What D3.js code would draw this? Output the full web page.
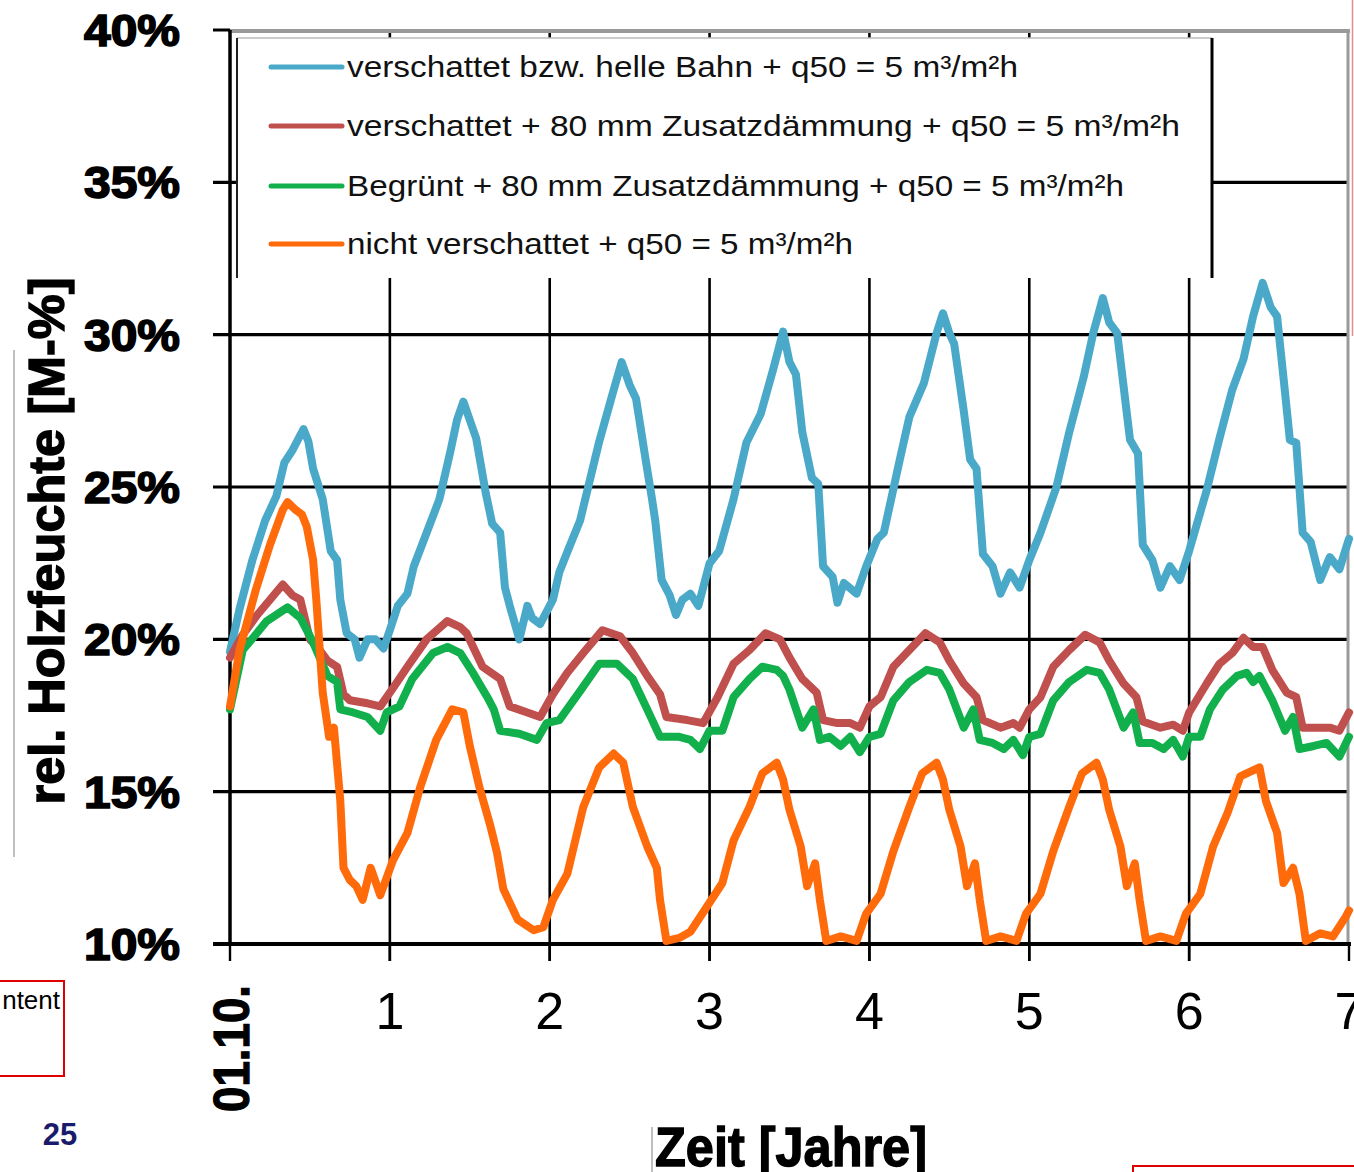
<!DOCTYPE html>
<html>
<head>
<meta charset="utf-8">
<script src="https://cdn.jsdelivr.net/npm/d3@7"></script>
<style>
  body { margin: 0; background: #fff; }
  svg { display: block; font-family: "Liberation Sans", Arial, sans-serif; }
</style>
</head>
<body>
<svg id="chart"></svg>
<script>
/* Holzfeuchte over 7 years - four variants */

const width = 1354, height = 1172;

// ---- data (year, rel. wood moisture %) ----
const yearTicks = [0, 1, 2, 3, 4, 5, 6, 7];
const yearLabels = ["", "1", "2", "3", "4", "5", "6", "7"];
const pctTicks = [10, 15, 20, 25, 30, 35, 40];

const seriesNames = [
  "verschattet bzw. helle Bahn + q50 = 5 m³/m²h",
  "verschattet +  80 mm Zusatzdämmung + q50 = 5 m³/m²h",
  "Begrünt + 80 mm Zusatzdämmung + q50 = 5 m³/m²h",
  "nicht verschattet + q50 = 5 m³/m²h"
];
const seriesColors = ["#4aa9c8", "#c0504d", "#12b04c", "#ff6a0a"];

const blueData = [[0,19.6],[0.06,21.0],[0.14,22.6],[0.22,23.9],[0.29,24.7],[0.34,25.8],[0.39,26.2],[0.46,26.9],[0.49,26.5],[0.52,25.6],[0.58,24.6],[0.63,22.9],[0.67,22.6],[0.69,21.3],[0.73,20.2],[0.78,20.0],[0.81,19.4],[0.86,20.0],[0.91,20.0],[0.96,19.7],[1.0,20.3],[1.05,21.1],[1.11,21.5],[1.15,22.4],[1.23,23.5],[1.31,24.6],[1.38,26.2],[1.42,27.2],[1.46,27.8],[1.5,27.2],[1.54,26.6],[1.6,24.8],[1.64,23.8],[1.69,23.5],[1.72,21.7],[1.75,21.1],[1.81,20.0],[1.86,21.1],[1.89,20.7],[1.94,20.5],[2.02,21.3],[2.06,22.2],[2.12,23.0],[2.19,23.9],[2.31,26.5],[2.39,28.0],[2.45,29.1],[2.5,28.35],[2.54,27.9],[2.6,25.9],[2.64,24.6],[2.66,23.9],[2.7,21.95],[2.75,21.45],[2.79,20.8],[2.83,21.3],[2.88,21.5],[2.93,21.1],[3.0,22.5],[3.06,22.9],[3.15,24.6],[3.23,26.45],[3.32,27.4],[3.4,28.9],[3.46,30.1],[3.5,29.1],[3.54,28.7],[3.58,26.8],[3.64,25.3],[3.68,25.1],[3.71,22.4],[3.77,22.05],[3.8,21.2],[3.84,21.85],[3.92,21.5],[3.98,22.4],[4.05,23.3],[4.09,23.5],[4.19,25.9],[4.25,27.3],[4.34,28.4],[4.42,30.05],[4.46,30.7],[4.5,30.05],[4.53,29.7],[4.59,27.5],[4.63,25.9],[4.67,25.6],[4.71,22.8],[4.77,22.4],[4.82,21.5],[4.88,22.2],[4.94,21.7],[5.0,22.6],[5.07,23.5],[5.17,25.0],[5.25,26.8],[5.34,28.6],[5.4,30.05],[5.46,31.2],[5.5,30.4],[5.55,30.05],[5.59,28.3],[5.63,26.55],[5.68,26.1],[5.71,23.1],[5.77,22.6],[5.82,21.7],[5.88,22.4],[5.94,21.95],[6.0,22.9],[6.11,24.9],[6.19,26.6],[6.27,28.2],[6.34,29.2],[6.4,30.6],[6.46,31.7],[6.51,30.9],[6.55,30.6],[6.59,28.6],[6.63,26.55],[6.67,26.45],[6.71,23.5],[6.76,23.2],[6.82,21.95],[6.88,22.7],[6.94,22.3],[7.0,23.3]];

const redData = [[0,19.4],[0.08,20.15],[0.17,20.8],[0.25,21.3],[0.33,21.8],[0.39,21.45],[0.44,21.3],[0.5,20.0],[0.56,19.65],[0.61,19.3],[0.67,19.1],[0.71,18.2],[0.75,18.0],[0.86,17.9],[0.94,17.8],[1.02,18.4],[1.11,19.1],[1.23,20.0],[1.36,20.6],[1.44,20.4],[1.48,20.2],[1.58,19.1],[1.69,18.7],[1.75,17.8],[1.86,17.6],[1.94,17.45],[2.02,18.2],[2.11,18.9],[2.21,19.55],[2.33,20.3],[2.44,20.1],[2.52,19.55],[2.61,18.8],[2.69,18.2],[2.73,17.45],[2.86,17.35],[2.96,17.25],[3.05,18.1],[3.15,19.2],[3.25,19.65],[3.35,20.2],[3.44,20.0],[3.5,19.4],[3.58,18.7],[3.67,18.25],[3.71,17.35],[3.8,17.25],[3.88,17.25],[3.94,17.1],[4.0,17.8],[4.07,18.1],[4.15,19.1],[4.25,19.65],[4.35,20.2],[4.44,19.9],[4.5,19.3],[4.59,18.55],[4.67,18.1],[4.71,17.35],[4.82,17.1],[4.9,17.25],[4.94,17.1],[5.0,17.7],[5.07,18.1],[5.15,19.1],[5.25,19.65],[5.35,20.15],[5.44,19.9],[5.5,19.3],[5.59,18.55],[5.67,18.1],[5.71,17.3],[5.82,17.1],[5.9,17.2],[5.96,17.0],[6.0,17.6],[6.11,18.55],[6.19,19.2],[6.27,19.55],[6.34,20.05],[6.4,19.75],[6.46,19.75],[6.52,19.0],[6.61,18.25],[6.67,18.1],[6.71,17.1],[6.8,17.1],[6.88,17.1],[6.94,17.0],[7.0,17.6]];

const greenData = [[0,17.7],[0.08,19.65],[0.16,20.15],[0.23,20.6],[0.36,21.05],[0.44,20.7],[0.48,20.3],[0.52,19.9],[0.61,18.8],[0.67,18.6],[0.69,17.7],[0.77,17.6],[0.86,17.45],[0.94,17.0],[0.98,17.6],[1.06,17.8],[1.14,18.7],[1.27,19.55],[1.36,19.75],[1.44,19.55],[1.52,18.9],[1.61,18.1],[1.65,17.7],[1.69,17.0],[1.81,16.9],[1.92,16.7],[1.98,17.25],[2.06,17.35],[2.19,18.3],[2.31,19.2],[2.42,19.2],[2.52,18.7],[2.61,17.7],[2.69,16.8],[2.81,16.8],[2.88,16.7],[2.94,16.4],[3.0,17.0],[3.08,17.0],[3.15,18.1],[3.25,18.7],[3.33,19.1],[3.42,19.0],[3.46,18.8],[3.5,18.35],[3.58,17.1],[3.65,17.7],[3.69,16.7],[3.75,16.8],[3.82,16.5],[3.88,16.8],[3.94,16.3],[4.0,16.8],[4.07,16.9],[4.15,18.0],[4.25,18.6],[4.36,19.0],[4.44,18.9],[4.5,18.35],[4.59,17.1],[4.65,17.7],[4.69,16.7],[4.77,16.6],[4.84,16.4],[4.9,16.7],[4.96,16.2],[5.0,16.8],[5.07,16.9],[5.15,18.0],[5.25,18.6],[5.36,19.0],[5.44,18.9],[5.5,18.35],[5.59,17.1],[5.65,17.6],[5.69,16.6],[5.77,16.6],[5.84,16.4],[5.9,16.7],[5.96,16.15],[6.0,16.8],[6.07,16.8],[6.13,17.7],[6.21,18.35],[6.3,18.8],[6.36,18.9],[6.4,18.6],[6.44,18.8],[6.52,18.0],[6.6,17.0],[6.65,17.45],[6.69,16.4],[6.78,16.5],[6.86,16.6],[6.94,16.15],[7.0,16.8]];

const orangeData = [[0,17.8],[0.06,19.65],[0.16,21.6],[0.25,23.1],[0.33,24.25],[0.36,24.5],[0.41,24.25],[0.45,24.1],[0.48,23.7],[0.52,22.6],[0.54,21.3],[0.58,18.25],[0.62,16.8],[0.65,17.1],[0.69,14.7],[0.71,12.5],[0.75,12.1],[0.79,11.9],[0.83,11.45],[0.88,12.5],[0.94,11.6],[1.02,12.75],[1.11,13.65],[1.19,15.15],[1.29,16.7],[1.39,17.7],[1.46,17.6],[1.5,16.5],[1.56,15.15],[1.63,13.85],[1.67,13.0],[1.71,11.8],[1.8,10.8],[1.9,10.45],[1.96,10.55],[2.02,11.45],[2.11,12.3],[2.21,14.5],[2.31,15.8],[2.4,16.25],[2.46,15.95],[2.52,14.5],[2.61,13.2],[2.67,12.5],[2.69,11.45],[2.73,10.1],[2.81,10.2],[2.88,10.4],[2.98,11.2],[3.08,12.0],[3.15,13.4],[3.25,14.5],[3.33,15.6],[3.42,15.95],[3.46,15.4],[3.5,14.4],[3.57,13.2],[3.61,11.9],[3.66,12.65],[3.69,11.45],[3.73,10.1],[3.82,10.25],[3.92,10.1],[3.98,11.0],[4.07,11.65],[4.15,13.05],[4.25,14.5],[4.33,15.6],[4.42,15.95],[4.46,15.4],[4.5,14.4],[4.57,13.2],[4.61,11.9],[4.66,12.65],[4.69,11.45],[4.73,10.1],[4.82,10.25],[4.92,10.1],[4.98,11.0],[5.07,11.65],[5.15,13.05],[5.25,14.5],[5.33,15.6],[5.42,15.95],[5.46,15.4],[5.5,14.4],[5.57,13.2],[5.61,11.9],[5.66,12.65],[5.69,11.45],[5.73,10.1],[5.82,10.25],[5.92,10.1],[5.98,11.0],[6.07,11.65],[6.15,13.2],[6.24,14.3],[6.32,15.5],[6.4,15.7],[6.44,15.8],[6.48,14.7],[6.55,13.65],[6.59,12.0],[6.65,12.5],[6.69,11.65],[6.73,10.1],[6.82,10.35],[6.9,10.25],[6.98,10.9],[7.0,11.1]];

const allSeries = [blueData, redData, greenData, orangeData];

// ---- layout ----
const plot = { left: 230, right: 1349, top: 30, bottom: 944 };
const legendBox = { x: 237, y: 38, w: 975, h: 240 };

const svg = d3.select("#chart")
  .attr("width", width)
  .attr("height", height)
  .attr("viewBox", [0, 0, width, height]);

const x = d3.scaleLinear().domain([0, 7]).range([plot.left, plot.right]);
const y = d3.scaleLinear().domain([10, 40]).range([plot.bottom, plot.top]);

/********* grid *********/
const gridG = svg.append("g");

// horizontal gridlines (10% is the axis itself)
gridG.selectAll("line.hgrid")
  .data(pctTicks.filter(d => d > 10 && d < 40))
  .join("line")
    .attr("x1", 213).attr("x2", plot.right)
    .attr("y1", d => y(d)).attr("y2", d => y(d))
    .attr("stroke", "#000").attr("stroke-width", 3.2);

// vertical gridlines
gridG.selectAll("line.vgrid")
  .data(yearTicks.filter(d => d > 0 && d < 7))
  .join("line")
    .attr("x1", d => x(d)).attr("x2", d => x(d))
    .attr("y1", plot.top).attr("y2", plot.bottom + 17)
    .attr("stroke", "#000").attr("stroke-width", 2.6);

// top / right frame (grey)
gridG.append("line")
  .attr("x1", plot.left - 2).attr("x2", plot.right + 1)
  .attr("y1", plot.top + 1).attr("y2", plot.top + 1)
  .attr("stroke", "#9a9a9a").attr("stroke-width", 4);
gridG.append("line")
  .attr("x1", plot.right - 1).attr("x2", plot.right - 1)
  .attr("y1", plot.top).attr("y2", plot.bottom)
  .attr("stroke", "#9a9a9a").attr("stroke-width", 3);

// 40% tick
gridG.append("line")
  .attr("x1", 213).attr("x2", plot.left)
  .attr("y1", y(40)).attr("y2", y(40))
  .attr("stroke", "#000").attr("stroke-width", 3);

// legend background hides the grid behind it
svg.append("rect")
  .attr("x", legendBox.x).attr("y", legendBox.y)
  .attr("width", legendBox.w).attr("height", legendBox.h)
  .attr("fill", "#fff");
svg.append("line")
  .attr("x1", legendBox.x).attr("x2", legendBox.x + legendBox.w)
  .attr("y1", legendBox.y).attr("y2", legendBox.y)
  .attr("stroke", "#bbb").attr("stroke-width", 1.5);
svg.append("line")
  .attr("x1", legendBox.x).attr("x2", legendBox.x)
  .attr("y1", legendBox.y).attr("y2", legendBox.y + legendBox.h)
  .attr("stroke", "#222").attr("stroke-width", 2);
svg.append("line")
  .attr("x1", legendBox.x + legendBox.w).attr("x2", legendBox.x + legendBox.w)
  .attr("y1", legendBox.y).attr("y2", legendBox.y + legendBox.h)
  .attr("stroke", "#000").attr("stroke-width", 3);

/********* axes *********/
// left axis line
svg.append("line")
  .attr("x1", plot.left).attr("x2", plot.left)
  .attr("y1", plot.top).attr("y2", plot.bottom)
  .attr("stroke", "#000").attr("stroke-width", 3.5);

// bottom axis line + ticks
svg.append("line")
  .attr("x1", 213).attr("x2", plot.right + 2)
  .attr("y1", plot.bottom).attr("y2", plot.bottom)
  .attr("stroke", "#000").attr("stroke-width", 4);
svg.selectAll("line.xtick")
  .data(yearTicks)
  .join("line")
    .attr("x1", d => x(d)).attr("x2", d => x(d))
    .attr("y1", plot.bottom).attr("y2", plot.bottom + 17)
    .attr("stroke", "#000").attr("stroke-width", 2.4);

// y tick labels
svg.selectAll("text.ylab")
  .data(pctTicks)
  .join("text")
    .attr("x", 180).attr("y", d => y(d) + 16)
    .attr("text-anchor", "end")
    .attr("font-size", 44).attr("font-weight", "bold")
    .attr("stroke", "#000").attr("stroke-width", 1.6)
    .attr("textLength", 96).attr("lengthAdjust", "spacingAndGlyphs")
    .text(d => d + "%");

// x tick labels
svg.selectAll("text.xlab")
  .data(yearTicks.filter(d => d > 0))
  .join("text")
    .attr("x", d => x(d)).attr("y", 1029)
    .attr("text-anchor", "middle")
    .attr("font-size", 52)
    .text(d => yearLabels[d]);

// start date label
svg.append("text")
  .attr("transform", `translate(${x(0) + 19},1112) rotate(-90)`)
  .attr("font-size", 50).attr("font-weight", "bold")
  .attr("stroke", "#000").attr("stroke-width", 1.2)
  .attr("textLength", 127).attr("lengthAdjust", "spacingAndGlyphs")
  .text("01.10.");

// axis titles
svg.append("text")
  .attr("transform", "translate(64,541) rotate(-90)")
  .attr("text-anchor", "middle")
  .attr("font-size", 50).attr("font-weight", "bold")
  .attr("stroke", "#000").attr("stroke-width", 1.4)
  .attr("textLength", 527).attr("lengthAdjust", "spacingAndGlyphs")
  .text("rel. Holzfeuchte [M-%]");

svg.append("text")
  .attr("x", 655).attr("y", 1166)
  .attr("font-size", 56).attr("font-weight", "bold")
  .attr("stroke", "#000").attr("stroke-width", 1.4)
  .attr("textLength", 272).attr("lengthAdjust", "spacingAndGlyphs")
  .text("Zeit [Jahre]");

/********* series *********/
const line = d3.line()
  .x(d => x(d[0]))
  .y(d => y(d[1]));

svg.append("g")
  .selectAll("path")
  .data(allSeries)
  .join("path")
    .attr("d", line)
    .attr("fill", "none")
    .attr("stroke", (d, i) => seriesColors[i])
    .attr("stroke-width", 8)
    .attr("stroke-linejoin", "round")
    .attr("stroke-linecap", "round");

/********* legend entries *********/
const legendRows = [77, 136, 196, 254];
const legendLen = [671, 833, 777, 506];
const legG = svg.append("g");
seriesNames.forEach((name, i) => {
  legG.append("line")
    .attr("x1", 271).attr("x2", 342)
    .attr("y1", legendRows[i] - 10).attr("y2", legendRows[i] - 10)
    .attr("stroke", seriesColors[i]).attr("stroke-width", 5)
    .attr("stroke-linecap", "round");
  legG.append("text")
    .attr("x", 347).attr("y", legendRows[i])
    .attr("font-size", 30).attr("fill", "#111")
    .attr("textLength", legendLen[i]).attr("lengthAdjust", "spacingAndGlyphs")
    .text(name);
});

/********* slide leftovers *********/
svg.append("line")
  .attr("x1", 14).attr("x2", 14).attr("y1", 350).attr("y2", 857)
  .attr("stroke", "#aaa").attr("stroke-width", 1.5);
svg.append("line")
  .attr("x1", 652).attr("x2", 652).attr("y1", 1127).attr("y2", 1172)
  .attr("stroke", "#aaa").attr("stroke-width", 1.5);
svg.append("line")
  .attr("x1", 1352.5).attr("x2", 1352.5).attr("y1", 0).attr("y2", 336)
  .attr("stroke", "#f08a8a").attr("stroke-width", 1.5);

svg.append("rect")
  .attr("x", -2).attr("y", 981).attr("width", 66).attr("height", 95)
  .attr("fill", "none").attr("stroke", "#e00000").attr("stroke-width", 2);
svg.append("text")
  .attr("x", 60).attr("y", 1009).attr("text-anchor", "end")
  .attr("font-size", 26).attr("fill", "#000")
  .text("ntent");

svg.append("rect")
  .attr("x", 1133).attr("y", 1166).attr("width", 240).attr("height", 40)
  .attr("fill", "none").attr("stroke", "#e00000").attr("stroke-width", 2);

svg.append("text")
  .attr("x", 60).attr("y", 1145).attr("text-anchor", "middle")
  .attr("font-size", 31).attr("font-weight", "bold")
  .attr("fill", "#1b1b6b")
  .text("25");
</script>
</body>
</html>
